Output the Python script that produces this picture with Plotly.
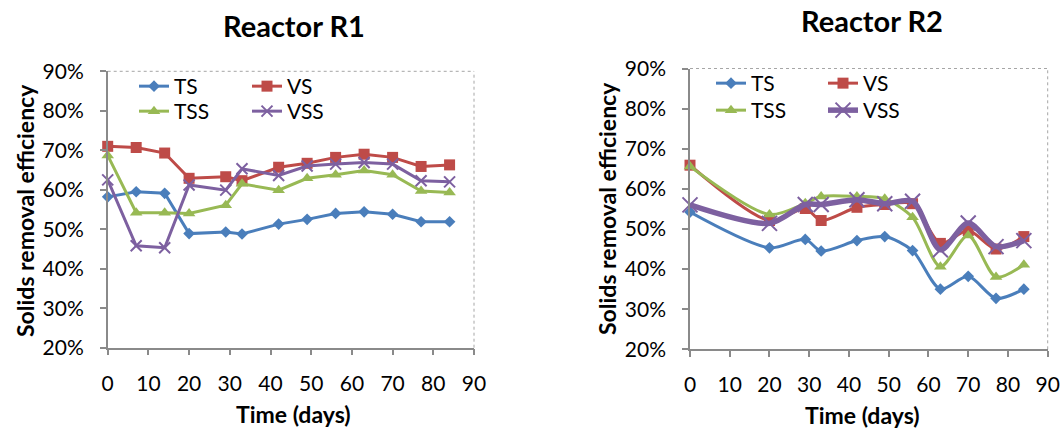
import plotly.graph_objects as go

# Sampling days for each reactor
days_r1 = [0, 7, 14, 20, 29, 33, 42, 49, 56, 63, 70, 77, 84]
days_r2 = [0, 20, 29, 33, 42, 49, 56, 63, 70, 77, 84]

# Solids removal efficiency (%) - Reactor R1
r1_ts = [58.2, 59.5, 59.1, 48.9, 49.3, 48.8, 51.3, 52.5, 54.0, 54.4, 53.8, 51.9, 51.9]
r1_vs = [71.0, 70.7, 69.3, 62.9, 63.3, 62.3, 65.7, 66.7, 68.2, 69.0, 68.2, 65.9, 66.3]
r1_tss = [68.7, 54.2, 54.2, 54.0, 56.1, 61.5, 59.9, 62.9, 63.8, 64.9, 63.8, 59.7, 59.3]
r1_vss = [62.5, 45.8, 45.3, 61.2, 59.9, 65.3, 63.6, 66.0, 66.5, 66.9, 66.5, 62.3, 62.0]

# Solids removal efficiency (%) - Reactor R2
r2_ts = [54.2, 45.3, 47.4, 44.5, 47.1, 48.1, 44.6, 35.0, 38.2, 32.7, 35.0]
r2_vs = [65.9, 52.1, 55.1, 52.1, 55.4, 56.1, 56.3, 46.4, 49.6, 45.0, 48.1]
r2_tss = [65.6, 53.6, 56.4, 58.1, 58.1, 57.5, 52.9, 40.6, 48.4, 38.0, 41.1]
r2_vss = [56.0, 51.4, 56.1, 56.1, 57.3, 56.3, 56.9, 44.8, 51.5, 45.6, 47.1]

series_names = ["TS", "VS", "TSS", "VSS"]
x_ticks = [0, 10, 20, 30, 40, 50, 60, 70, 80, 90]
y_ticks = [20, 30, 40, 50, 60, 70, 80, 90]
y_tick_labels = ["20%", "30%", "40%", "50%", "60%", "70%", "80%", "90%"]

COLORS = {"TS": "#4A7EBB", "VS": "#BE4B48", "TSS": "#98B954", "VSS": "#7D60A0"}
SYMBOLS = {"TS": "diamond", "VS": "square", "TSS": "triangle-up", "VSS": "x-thin"}
SIZES_R1 = {"TS": 9, "VS": 11, "TSS": 11, "VSS": 11}
SIZES_R2 = {"TS": 9, "VS": 11, "TSS": 11, "VSS": 15}
# first row of legend: TS, VS ; second row: TSS, VSS
ROW = {"TS": 0, "VS": 0, "TSS": 1, "VSS": 1}

FONT = "Lato, 'Open Sans', sans-serif"
W, H = 1061, 428

fig = go.Figure()

r1_data = {"TS": r1_ts, "VS": r1_vs, "TSS": r1_tss, "VSS": r1_vss}
r2_data = {"TS": r2_ts, "VS": r2_vs, "TSS": r2_tss, "VSS": r2_vss}

for name in series_names:
    c = COLORS[name]
    fig.add_trace(go.Scatter(
        x=days_r1, y=r1_data[name], name=name, mode="lines+markers",
        xaxis="x", yaxis="y", cliponaxis=False,
        line=dict(color=c, width=3),
        marker=dict(symbol=SYMBOLS[name], size=SIZES_R1[name], color=c,
                    line=dict(color=c, width=2 if name == "VSS" else 0)),
        legend="legend" if ROW[name] == 0 else "legend2",
    ))

for name in series_names:
    c = COLORS[name]
    fig.add_trace(go.Scatter(
        x=days_r2, y=r2_data[name], name=name, mode="lines+markers",
        xaxis="x2", yaxis="y2", cliponaxis=False,
        line=dict(color=c, width=5.5 if name == "VSS" else 3,
                  shape="spline", smoothing=0.8),
        marker=dict(symbol=SYMBOLS[name], size=SIZES_R2[name], color=c,
                    line=dict(color=c, width=2 if name == "VSS" else 0)),
        legend="legend3" if ROW[name] == 0 else "legend4",
    ))

AXIS_GREY = "#8a8a8a"
TICK_SIZE = 21


def xaxis(domain, anchor):
    return dict(domain=domain, anchor=anchor, range=[0, 90], tickmode="array",
                tickvals=x_ticks, automargin=False,
                showgrid=False, zeroline=False, showline=True,
                linecolor=AXIS_GREY, linewidth=1.5, ticks="outside", ticklen=6,
                tickcolor=AXIS_GREY, tickwidth=1.5, ticklabelstandoff=10,
                tickfont=dict(family=FONT, size=TICK_SIZE, color="#000"),
                fixedrange=True)


def yaxis(domain, anchor):
    return dict(domain=domain, anchor=anchor, range=[20, 90], tickmode="array",
                tickvals=y_ticks, ticktext=y_tick_labels, automargin=False,
                showgrid=False, zeroline=False, showline=True,
                linecolor=AXIS_GREY, linewidth=1.5, ticks="outside", ticklen=6,
                tickcolor=AXIS_GREY, tickwidth=1.5, ticklabelstandoff=12,
                tickfont=dict(family=FONT, size=TICK_SIZE, color="#000"),
                fixedrange=True)


r1_x = [107.7 / W, 474.0 / W]
r1_y = [1 - 347.7 / H, 1 - 71.3 / H]
r2_x = [690.0 / W, 1047.7 / W]
r2_y = [1 - 349.3 / H, 1 - 68.5 / H]


def legend(left_px, top_px, entry):
    return dict(orientation="h", x=left_px / W, y=1 - top_px / H,
                xanchor="left", yanchor="top", bgcolor="rgba(0,0,0,0)",
                entrywidth=entry, entrywidthmode="pixels",
                font=dict(family=FONT, size=21, color="#000"))


# dotted frame on the top and right sides of each plot area
frame = dict(color="#a6a6a6", width=1, dash="dot")
shapes = []
for xr, yr in (("x", "y"), ("x2", "y2")):
    shapes.append(dict(type="line", xref=f"{xr} domain", yref=f"{yr} domain",
                       x0=0, x1=1, y0=1, y1=1, line=frame, layer="below"))
    shapes.append(dict(type="line", xref=f"{xr} domain", yref=f"{yr} domain",
                       x0=1, x1=1, y0=0, y1=1, line=frame, layer="below"))


def label(text, x_px, y_px, size, angle=0):
    return dict(text=f"<b>{text}</b>", x=x_px / W, y=1 - y_px / H,
                xref="paper", yref="paper", xanchor="center", yanchor="middle",
                showarrow=False, textangle=angle,
                font=dict(family=FONT, size=size, color="#000"))


annotations = [
    label("Reactor R1", 294, 26, 29),
    label("Reactor R2", 872, 20, 29),
    label("Time (days)", 293, 414, 23),
    label("Time (days)", 862, 415, 23),
    label("Solids removal efficiency", 25, 211, 23, -90),
    label("Solids removal efficiency", 607, 209, 23, -90),
]

fig.update_layout(
    template="none",
    width=W, height=H,
    margin=dict(l=0, r=0, t=0, b=0, autoexpand=False),
    paper_bgcolor="white", plot_bgcolor="white",
    xaxis=xaxis(r1_x, "y"), yaxis=yaxis(r1_y, "x"),
    xaxis2=xaxis(r2_x, "y2"), yaxis2=yaxis(r2_y, "x2"),
    legend=legend(134, 66, 68),
    legend2=legend(134, 91, 68),
    legend3=legend(711, 63, 67),
    legend4=legend(711, 90, 67),
    shapes=shapes,
    annotations=annotations,
    font=dict(family=FONT, color="#000"),
)

fig.write_html("out.html", config={"displayModeBar": False})
